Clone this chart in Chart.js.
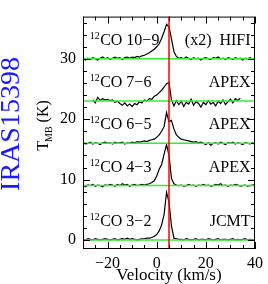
<!DOCTYPE html>
<html>
<head>
<meta charset="utf-8">
<script src="https://cdn.jsdelivr.net/npm/chart.js@4.4.0/dist/chart.umd.min.js"></script>
<style>
  body { margin: 0; background: #fff; }
  #wrap { width: 268px; height: 284px; }
</style>
</head>
<body>
<div id="wrap"><canvas id="myChart" width="268" height="284"></canvas></div>
<script>
// velocity channels (km/s)
const velocity = [-30,-29,-28,-27,-26,-25,-24,-23,-22,-21,
  -20,-19,-18,-17,-16,-15,-14,-13,-12,-11,
  -10,-9,-8,-7,-6,-5,-4,-3,-2,-1,
  0,1,2,3,4,5,6,7,8,9,
  10,11,12,13,14,15,16,17,18,19,
  20,21,22,23,24,25,26,27,28,29,
  30,31,32,33,34,35,36,37,38,39,40];

// T_MB (K) of each line, before vertical offset
const co109 = [0.0,-0.2,0.1,-0.1,0.2,0.0,-0.2,0.1,0.3,0.0,
  0.2,-0.1,0.1,0.3,0.1,0.2,-0.1,0.2,0.3,0.1,
  0.3,0.2,0.4,0.3,0.5,0.6,0.8,1.0,1.3,1.6,
  2.0,2.5,3.4,4.5,5.7,5.3,3.3,1.2,0.4,0.1,
  0.2,0.0,0.3,0.1,-0.1,0.2,0.0,0.1,-0.2,0.1,
  0.2,0.0,-0.1,0.2,0.1,0.3,0.0,0.1,-0.1,0.2,
  0.1,-0.1,0.2,0.0,0.1,-0.2,0.1,0.0,0.2,-0.1,0.1];
const co76 = [null,null,null,null,0.2,-0.3,0.6,0.1,0.4,0.2,
  0.3,0.1,0.2,-0.2,0.0,-0.4,-0.7,-0.3,-0.8,-0.5,
  -0.9,-0.4,-0.6,-0.1,-0.3,0.2,0.0,0.4,0.3,0.8,
  1.0,1.4,1.8,2.3,2.9,3.1,0.2,-0.8,0.1,-0.6,
  0.0,-0.9,-0.2,-0.5,0.3,-0.7,-0.1,-0.4,-1.0,-0.2,
  -0.6,0.1,-0.5,-0.2,-0.8,0.0,-0.4,0.2,-0.6,-0.1,
  0.3,-0.3,0.4,0.1,0.5,null,null,null,null,null,null];
const co65 = [0.1,-0.1,0.0,0.2,-0.1,0.1,0.0,-0.2,0.1,0.2,
  0.0,0.1,-0.1,0.2,0.0,0.1,0.2,-0.1,0.1,0.0,
  0.2,0.1,0.3,0.2,0.3,0.4,0.3,0.5,0.6,0.7,
  1.0,1.4,2.0,2.8,5.1,3.6,3.8,2.4,1.4,1.0,
  0.7,0.6,0.5,0.4,0.3,0.2,0.3,0.1,0.2,0.0,
  -0.2,0.1,-0.3,0.0,0.1,-0.1,0.2,0.0,-0.2,0.1,
  0.0,0.2,-0.1,0.1,0.0,-0.2,0.1,0.0,-0.1,0.1,-0.2];
const co43 = [0.0,-0.2,0.1,0.0,0.2,-0.1,0.1,0.0,-0.2,0.1,
  0.0,0.2,0.1,-0.1,0.2,0.0,0.3,0.1,0.2,-0.1,
  0.1,0.2,0.0,0.1,0.2,0.1,0.2,0.3,0.5,0.8,
  1.6,2.7,3.5,5.2,6.8,5.0,1.2,0.3,0.1,0.0,
  0.1,-0.1,0.0,0.2,0.0,0.1,-0.1,0.1,0.0,0.2,
  0.0,0.1,-0.1,0.0,0.2,0.1,0.3,0.0,0.1,-0.1,
  0.1,0.0,0.2,0.1,-0.1,0.0,0.1,-0.1,0.0,0.1,0.2];
const co32 = [0.1,0.0,0.2,0.1,0.0,0.2,0.1,0.0,0.1,0.2,
  0.1,0.0,0.1,0.2,0.0,0.1,0.2,0.1,0.3,0.1,
  0.2,0.1,0.0,0.1,0.2,0.2,0.3,0.3,0.4,0.6,
  0.9,1.5,2.5,4.2,7.9,6.3,2.3,0.3,0.2,0.1,
  0.1,0.0,0.2,0.1,0.0,0.1,0.2,0.0,0.1,0.1,
  0.0,0.2,0.1,0.0,0.1,0.2,0.0,0.1,0.1,0.0,
  0.1,0.2,0.0,0.1,0.0,0.1,0.2,0.0,0.1,0.0,0.1];

const spectra = [co109, co76, co65, co43, co32];
const offsets = [30, 23, 16, 9, 0];
const lineNames = ['CO 10\u22129', 'CO 7\u22126', 'CO 6\u22125', 'CO 4\u22123', 'CO 3\u22122'];
const telescopes = ['(x2)  HIFI', 'APEX', 'APEX', 'APEX', 'JCMT'];
const sourceName = 'IRAS15398';
const vlsr = 5;

const xMin = -30, xMax = 40;
const yMin = -1.5, yMax = 37;
const xTicks = [-20, 0, 20, 40];
const xTickLabels = ['\u221220', '0', '20', '40'];
const yTicks = [0, 10, 20, 30];
const yTickLabels = ['0', '10', '20', '30'];

const serif = 'Liberation Serif';

const datasets = [];
// red systemic velocity line (on top)
datasets.push({
  data: [{x: vlsr, y: yMin}, {x: vlsr, y: yMax}],
  borderColor: '#ff0000', borderWidth: 1.5, order: 0
});
// green baselines
offsets.forEach(off => {
  datasets.push({
    data: [{x: xMin, y: off}, {x: xMax, y: off}],
    borderColor: '#33ee33', borderWidth: 1.5, order: 1
  });
});
// spectra
spectra.forEach((spec, k) => {
  const pts = [];
  velocity.forEach((v, i) => {
    if (spec[i] !== null) pts.push({x: v, y: spec[i] + offsets[k]});
  });
  datasets.push({ data: pts, borderColor: '#000', borderWidth: 1.2, order: 2 });
});

const framePlugin = {
  id: 'frame',
  afterDraw(chart) {
    const ctx = chart.ctx;
    const a = chart.chartArea;
    const xs = chart.scales.x, ys = chart.scales.y;
    ctx.save();
    ctx.strokeStyle = '#000';
    ctx.lineWidth = 1;
    ctx.strokeRect(a.left + 0.5, a.top + 0.5, a.right - a.left - 1, a.bottom - a.top - 1);

    // inward ticks on all four sides
    ctx.beginPath();
    for (let v = -30; v <= 40; v += 5) {
      const px = Math.round(xs.getPixelForValue(v)) + 0.5;
      const len = (v % 20 === 0) ? 7 : 4;
      ctx.moveTo(px, a.bottom); ctx.lineTo(px, a.bottom - len);
      ctx.moveTo(px, a.top); ctx.lineTo(px, a.top + len);
    }
    for (let v = 0; v <= 36; v += 2) {
      const py = Math.round(ys.getPixelForValue(v)) + 0.5;
      const len = (v % 10 === 0) ? 7 : 4;
      ctx.moveTo(a.left, py); ctx.lineTo(a.left + len, py);
      ctx.moveTo(a.right, py); ctx.lineTo(a.right - len, py);
    }
    ctx.stroke();

    // line labels
    ctx.fillStyle = '#000';
    ctx.textBaseline = 'alphabetic';
    spectra.forEach((s, k) => {
      const by = ys.getPixelForValue(offsets[k] + 2.3);
      const lx = xs.getPixelForValue(-27.3);
      ctx.textAlign = 'left';
      ctx.font = '10px ' + serif;
      ctx.fillText('12', lx, by - 6);
      const w = ctx.measureText('12').width;
      ctx.font = '16px ' + serif;
      ctx.fillText(lineNames[k], lx + w + 0.5, by);
      ctx.textAlign = 'right';
      ctx.fillText(telescopes[k], xs.getPixelForValue(38.2), by);
    });

    // y axis title T_MB (K)
    ctx.save();
    ctx.translate(48, 125);
    ctx.rotate(-Math.PI / 2);
    ctx.font = '16px ' + serif;
    const wT = ctx.measureText('T').width;
    ctx.font = '10px ' + serif;
    const wMB = ctx.measureText('MB').width;
    ctx.font = '16px ' + serif;
    const wK = ctx.measureText(' (K)').width;
    let x0 = -(wT + wMB + wK) / 2;
    ctx.textAlign = 'left';
    ctx.fillText('T', x0, 0);
    ctx.font = '10px ' + serif;
    ctx.fillText('MB', x0 + wT - 1, 4);
    ctx.font = '16px ' + serif;
    ctx.fillText(' (K)', x0 + wT + wMB - 1, 0);
    ctx.restore();

    // source name
    ctx.save();
    ctx.translate(19, 124);
    ctx.rotate(-Math.PI / 2);
    ctx.font = '28px ' + serif;
    ctx.fillStyle = '#1a1aff';
    ctx.textAlign = 'center';
    ctx.fillText(sourceName, 0, 0);
    ctx.restore();

    ctx.restore();
  }
};

new Chart(document.getElementById('myChart'), {
  type: 'scatter',
  data: { datasets: datasets },
  options: {
    responsive: false,
    animation: false,
    showLine: true,
    elements: { point: { radius: 0 }, line: { tension: 0 } },
    layout: { padding: { top: 1, right: 7, left: 0, bottom: 0 } },
    plugins: { legend: { display: false }, tooltip: { enabled: false } },
    scales: {
      x: {
        type: 'linear', min: xMin, max: xMax,
        grid: { display: false, drawTicks: false },
        border: { display: false },
        afterBuildTicks: s => { s.ticks = xTicks.map(v => ({ value: v })); },
        afterFit: s => { s.height = 35; },
        ticks: {
          padding: 5, color: '#000', autoSkip: false, maxRotation: 0,
          font: { family: serif, size: 16 },
          callback: (v, i) => xTickLabels[i]
        },
        title: {
          display: true, text: 'Velocity (km/s)', color: '#000',
          padding: { top: 0, bottom: -2 },
          font: { family: serif, size: 17 }
        }
      },
      y: {
        type: 'linear', min: yMin, max: yMax,
        grid: { display: false, drawTicks: false },
        border: { display: false },
        afterBuildTicks: s => { s.ticks = yTicks.map(v => ({ value: v })); },
        afterFit: s => { s.width = 83; },
        ticks: {
          padding: 7, color: '#000', autoSkip: false,
          font: { family: serif, size: 16 },
          callback: (v, i) => yTickLabels[i]
        }
      }
    }
  },
  plugins: [framePlugin]
});
</script>
</body>
</html>
